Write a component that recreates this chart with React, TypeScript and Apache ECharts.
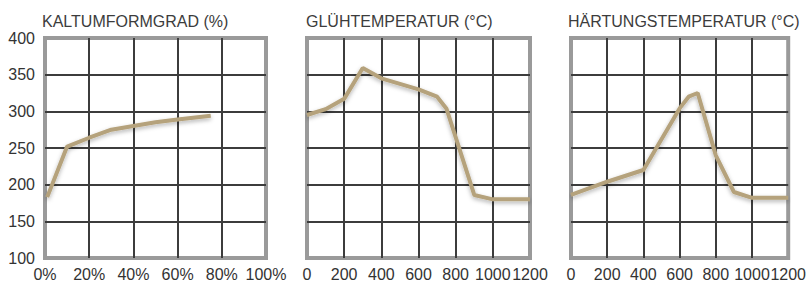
import React, { useEffect, useRef } from "react";
import * as echarts from "echarts";

const titles = ["KALTUMFORMGRAD (%)", "GLÜHTEMPERATUR (°C)", "HÄRTUNGSTEMPERATUR (°C)"];

const coldWork: [number, number][] = [
  [1, 183], [10, 252], [20, 264], [30, 275], [40, 280], [50, 285], [60, 289], [75, 294],
];
const annealTemp: [number, number][] = [
  [0, 295], [100, 303], [200, 317], [300, 359], [400, 345], [600, 330], [700, 320], [750, 304], [900, 186], [1000, 180], [1200, 180],
];
const hardenTemp: [number, number][] = [
  [0, 186], [200, 204], [400, 220], [600, 304], [650, 320], [700, 325], [800, 240], [900, 190], [1000, 182], [1200, 182],
];

const yMin = 100;
const yMax = 400;
const yStep = 50;

const FONT = "Liberation Sans, Arial, Helvetica, sans-serif";
const LINE_COLOR = "#b5a27b";

export default function App() {
  const ref = useRef<HTMLDivElement>(null);
  useEffect(() => {
    if (!ref.current) return;
    const chart = echarts.init(ref.current, undefined, { renderer: "svg" });
    const grids = [
      { left: 45, width: 221 },
      { left: 307, width: 223 },
      { left: 571, width: 222 },
    ];
    const titleLefts = [42, 306, 568];
    const xDefs = [
      { min: 0, max: 100, interval: 20, suffix: "%" },
      { min: 0, max: 1200, interval: 200, suffix: "" },
      { min: 0, max: 1200, interval: 200, suffix: "" },
    ];
    const datas = [coldWork, annealTemp, hardenTemp];
    chart.setOption({
      animation: false,
      backgroundColor: "#ffffff",
      title: titles.map((t, i) => ({
        text: t,
        left: titleLefts[i],
        top: 13,
        padding: 0,
        textStyle: { fontFamily: FONT, fontSize: 16, fontWeight: "normal", color: "#3c3c3c" },
      })),
      grid: grids.map((g) => ({
        left: g.left,
        width: g.width,
        top: 38,
        height: 220,
        show: true,
        borderColor: "#9a9a9a",
        borderWidth: 4,
        backgroundColor: "#ffffff",
      })),
      xAxis: xDefs.map((d, i) => ({
        type: "value",
        gridIndex: i,
        min: d.min,
        max: d.max,
        interval: d.interval,
        axisLine: { show: false },
        axisTick: { show: false },
        axisLabel: {
          formatter: (v: number) => String(v) + d.suffix,
          fontFamily: FONT,
          fontSize: 16,
          color: "#333",
          margin: 8,
          hideOverlap: false,
          showMinLabel: true,
          showMaxLabel: true,
        },
        splitLine: {
          show: true,
          showMinLine: false,
          showMaxLine: false,
          lineStyle: { color: "#3c3c3c", width: 2 },
        },
      })),
      yAxis: [0, 1, 2].map((i) => ({
        type: "value",
        gridIndex: i,
        min: yMin,
        max: yMax,
        interval: yStep,
        axisLine: { show: false },
        axisTick: { show: false },
        axisLabel: {
          show: i === 0,
          fontFamily: FONT,
          fontSize: 16,
          color: "#333",
          margin: 10,
        },
        splitLine: {
          show: true,
          showMinLine: false,
          showMaxLine: false,
          lineStyle: { color: "#3c3c3c", width: 2 },
        },
      })),
      series: datas.map((d, i) => ({
        type: "line",
        xAxisIndex: i,
        yAxisIndex: i,
        data: d,
        symbol: "none",
        smooth: false,
        z: 5,
        lineStyle: {
          color: LINE_COLOR,
          width: 4,
          shadowColor: "rgba(0,0,0,0.3)",
          shadowBlur: 4,
          shadowOffsetY: 2,
        },
      })),
    });
    return () => chart.dispose();
  }, []);
  return (
    <div
      ref={ref}
      style={{ position: "fixed", left: 0, top: 0, width: 809, height: 284 }}
    />
  );
}
